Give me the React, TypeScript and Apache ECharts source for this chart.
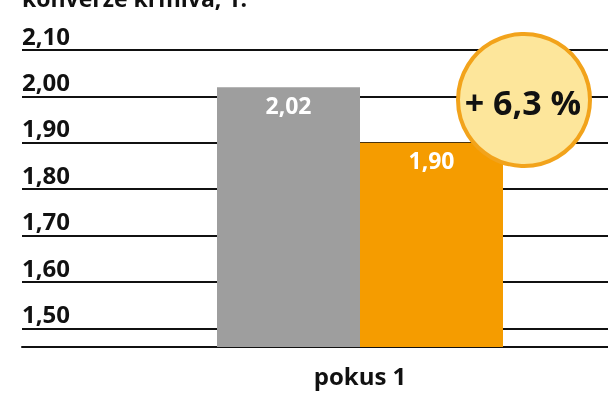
import React, { useEffect, useRef } from 'react';
import * as echarts from 'echarts';

const categories = ['pokus 1'];
const greyValues = [2.02];
const orangeValues = [1.9];
const yTicks = [1.5, 1.6, 1.7, 1.8, 1.9, 2.0, 2.1];
const titleText = 'konverze krmiva, 1:';

const fmt = (v: number) => v.toFixed(2).replace('.', ',');

const App: React.FC = () => {
  const chartRef = useRef<HTMLDivElement>(null);

  useEffect(() => {
    if (!chartRef.current) return;
    const chart = echarts.init(chartRef.current, null, { renderer: 'svg' });

    const diff = ((greyValues[0] - orangeValues[0]) / orangeValues[0]) * 100;
    const badge = '+ ' + diff.toFixed(1).replace('.', ',') + ' %';

    const barLabel = {
      show: true,
      position: 'insideTop',
      distance: 6,
      color: '#fff',
      fontWeight: 'bold',
      fontSize: 23,
      fontFamily: 'Open Sans',
      formatter: (p: any) => fmt(p.value),
    };

    const option = {
      animation: false,
      textStyle: { fontFamily: 'Open Sans' },
      // the plot runs past the right edge, so the category centre sits right of middle
      grid: {
        left: 22,
        width: 676,
        top: 50,
        height: 297,
        outerBoundsMode: 'none',
        containLabel: false,
      },
      xAxis: {
        type: 'category',
        data: categories,
        axisLine: { show: true, lineStyle: { color: '#111', width: 2 } },
        axisTick: { show: false },
        axisLabel: {
          margin: 16,
          color: '#111',
          fontWeight: 'bold',
          fontSize: 24,
          fontFamily: 'Open Sans',
        },
      },
      yAxis: {
        type: 'value',
        min: 1.46,
        max: 2.1,
        interval: 0.02,
        axisLine: { show: false },
        axisTick: { show: false },
        axisLabel: {
          inside: true,
          margin: 0,
          verticalAlign: 'bottom',
          padding: [0, 0, 3, 0],
          color: '#111',
          fontWeight: 'bold',
          fontSize: 24,
          fontFamily: 'Open Sans',
          formatter: (v: number) =>
            yTicks.some((t) => Math.abs(t - v) < 1e-6) ? fmt(v) : '',
        },
        splitLine: {
          show: true,
          showMinLine: true,
          showMaxLine: true,
          lineStyle: {
            width: 2,
            color: ['transparent', 'transparent', '#111', 'transparent', 'transparent'],
          },
        },
      },
      series: [
        {
          type: 'bar',
          data: greyValues,
          barWidth: 143,
          barGap: '0%',
          itemStyle: { color: '#9e9e9e' },
          label: barLabel,
        },
        {
          type: 'bar',
          data: orangeValues,
          barWidth: 143,
          itemStyle: { color: '#f59c00' },
          label: barLabel,
        },
      ],
      graphic: [
        {
          type: 'text',
          left: 22,
          top: -14,
          style: {
            text: titleText,
            fill: '#111',
            font: 'bold 23px "Open Sans"',
          },
        },
        {
          type: 'circle',
          shape: { cx: 524, cy: 100, r: 66 },
          style: { fill: '#fde69b', stroke: '#f2a31b', lineWidth: 4 },
          z: 100,
        },
        {
          type: 'text',
          x: 523,
          y: 102,
          style: {
            text: badge,
            fill: '#111',
            font: 'bold 34px "Open Sans"',
            textAlign: 'center',
            textVerticalAlign: 'middle',
          },
          z: 101,
        },
      ],
    };

    chart.setOption(option as any);
    return () => {
      chart.dispose();
    };
  }, []);

  return (
    <div
      ref={chartRef}
      style={{ position: 'fixed', left: 0, top: 0, width: 608, height: 405 }}
    />
  );
};

export default App;
